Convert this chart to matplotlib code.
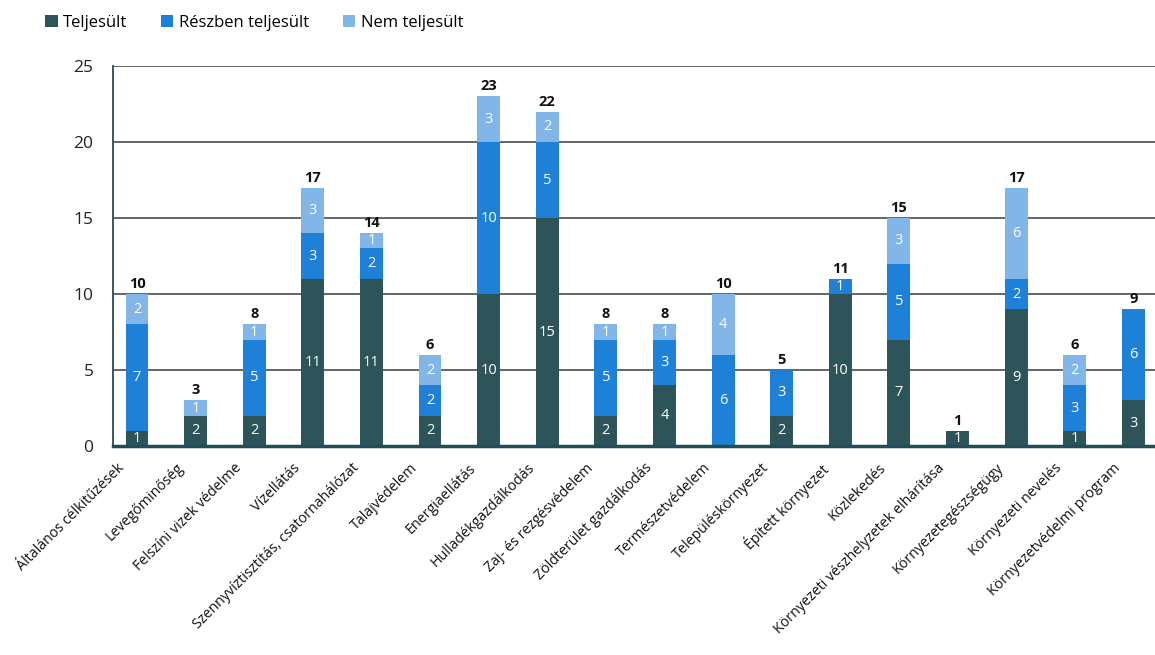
import matplotlib
matplotlib.use("Agg")
import matplotlib.pyplot as plt
import matplotlib.transforms as mtransforms
import numpy as np

plt.rcParams['font.family'] = ['Open Sans', 'DejaVu Sans']

categories = [
    "Általános célkitűzések",
    "Levegőminőség",
    "Felszíni vizek védelme",
    "Vízellátás",
    "Szennyvíztisztítás, csatornahálózat",
    "Talajvédelem",
    "Energiaellátás",
    "Hulladékgazdálkodás",
    "Zaj- és rezgésvédelem",
    "Zöldterület gazdálkodás",
    "Természetvédelem",
    "Településkörnyezet",
    "Épített környezet",
    "Közlekedés",
    "Környezeti vészhelyzetek elhárítása",
    "Környezetegészségügy",
    "Környezeti nevelés",
    "Környezetvédelmi program",
]
teljesult = [1, 2, 2, 11, 11, 2, 10, 15, 2, 4, 0, 2, 10, 7, 1, 9, 1, 3]
reszben = [7, 0, 5, 3, 2, 2, 10, 5, 5, 3, 6, 3, 1, 5, 0, 2, 3, 6]
nem = [2, 1, 1, 3, 1, 2, 3, 2, 1, 1, 4, 0, 0, 3, 0, 6, 2, 0]
series_names = ["Teljesült", "Részben teljesült", "Nem teljesült"]
yticks = [0, 5, 10, 15, 20, 25]

colors = ["#2d5559", "#1f80d8", "#82b5e8"]

fig = plt.figure(figsize=(11.55, 6.55), dpi=100)
ax = fig.add_axes([113 / 1155, 1 - 446 / 655, 1 - 113 / 1155, 380 / 655])

x = np.arange(len(categories))
width = 0.39
bottom = np.zeros(len(categories))
for vals, name, col in zip([teljesult, reszben, nem], series_names, colors):
    vals = np.array(vals, dtype=float)
    ax.bar(x, vals, width, bottom=bottom, color=col, label=name, zorder=3)
    for xi, b, v in zip(x, bottom, vals):
        if v > 0:
            ax.text(xi, b + v / 2, f"{int(v)}", ha="center", va="center",
                    color="white", fontsize=10.5, zorder=4)
    bottom += vals

for xi, tot in zip(x, bottom):
    ax.text(xi, tot + 0.2, f"{int(tot)}", ha="center", va="bottom",
            fontsize=10.5, fontweight="bold", color="#111111", zorder=4)

ax.set_ylim(0, 25)
ax.set_xlim(-0.41, 17.37)
ax.set_yticks(yticks)
ax.tick_params(axis="y", labelsize=12.5, length=0, pad=14, colors="#222222")
ax.yaxis.grid(True, color="#3c3c3c", linewidth=1.1, zorder=0)
ax.set_axisbelow(True)

ax.set_xticks(x)
ax.set_xticklabels(categories, rotation=45, ha="right", rotation_mode="anchor",
                   fontsize=10.3, color="#111111")
ax.tick_params(axis="x", length=0, pad=9)
shift = mtransforms.ScaledTranslation(-0.2, -0.02, fig.dpi_scale_trans)
for lbl in ax.get_xticklabels():
    lbl.set_transform(lbl.get_transform() + shift)

for s in ["top", "right"]:
    ax.spines[s].set_visible(False)
ax.spines["left"].set_color("#2a4a50")
ax.spines["left"].set_linewidth(1.3)
ax.spines["bottom"].set_color("#1f4e58")
ax.spines["bottom"].set_linewidth(2.5)
ax.spines["bottom"].set_zorder(5)

fig.legend(loc="upper left", bbox_to_anchor=(0.026, 1.0), ncol=3, frameon=False,
           fontsize=12, handlelength=0.75, handleheight=0.75, handletextpad=0.35,
           columnspacing=2.0)

fig.savefig("out.png", dpi=100, facecolor="white")
